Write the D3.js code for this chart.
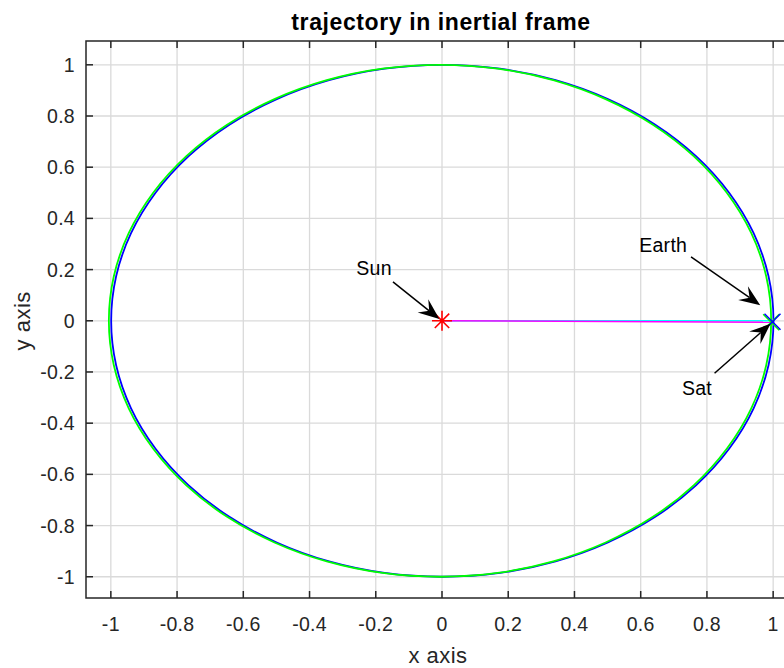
<!DOCTYPE html>
<html>
<head>
<meta charset="utf-8">
<script src="https://cdn.jsdelivr.net/npm/d3@7/dist/d3.min.js"></script>
<style>
  html, body { margin: 0; padding: 0; background: #fff; }
  svg { display: block; font-family: "Liberation Sans", Arial, sans-serif; }
</style>
</head>
<body>
<svg id="chart" width="784" height="668"></svg>
<script>
// Orbit samples every 10 degrees (x, y in AU)
const earthX = [0.994, 0.979, 0.934, 0.860, 0.760, 0.637, 0.494, 0.336, 0.168, -0.006, -0.180, -0.348, -0.506, -0.649, -0.772, -0.872, -0.946, -0.991, -1.006, -0.991, -0.946, -0.872, -0.772, -0.649, -0.506, -0.348, -0.180, -0.006, 0.168, 0.336, 0.494, 0.637, 0.760, 0.860, 0.934, 0.979];
const earthY = [0.000, 0.174, 0.342, 0.500, 0.643, 0.766, 0.866, 0.940, 0.985, 1.000, 0.985, 0.940, 0.866, 0.766, 0.643, 0.500, 0.342, 0.174, 0.000, -0.174, -0.342, -0.500, -0.643, -0.766, -0.866, -0.940, -0.985, -1.000, -0.985, -0.940, -0.866, -0.766, -0.643, -0.500, -0.342, -0.174];
const satX = [1.001, 0.986, 0.941, 0.867, 0.767, 0.644, 0.501, 0.343, 0.175, 0.001, -0.173, -0.341, -0.499, -0.642, -0.765, -0.865, -0.939, -0.984, -0.999, -0.984, -0.939, -0.865, -0.765, -0.642, -0.499, -0.341, -0.173, 0.001, 0.175, 0.343, 0.501, 0.644, 0.767, 0.867, 0.941, 0.986];
const satY = [0.000, 0.174, 0.342, 0.500, 0.643, 0.766, 0.866, 0.940, 0.985, 1.000, 0.985, 0.940, 0.866, 0.766, 0.643, 0.500, 0.342, 0.174, 0.000, -0.174, -0.342, -0.500, -0.643, -0.766, -0.866, -0.940, -0.985, -1.000, -0.985, -0.940, -0.866, -0.766, -0.643, -0.500, -0.342, -0.174];

// Body positions at the final time step
const sunPos = [0, 0];
const earthPos = [0.994, -0.006];
const satPos = [0.998, -0.004];

// Axis ticks
const xTicks = [-1, -0.8, -0.6, -0.4, -0.2, 0, 0.2, 0.4, 0.6, 0.8, 1];
const yTicks = [-1, -0.8, -0.6, -0.4, -0.2, 0, 0.2, 0.4, 0.6, 0.8, 1];
const xDomain = [-1.075, 1.075];
const yDomain = [-1.083, 1.093];

// Annotations: label, label position, arrow tail, arrow head
const annotations = [
  { label: "Sun",   text: [-0.205, 0.205], tail: [-0.148, 0.152], head: [-0.008, 0.007] },
  { label: "Earth", text: [0.668, 0.296],  tail: [0.752, 0.250],   head: [0.961, 0.061] },
  { label: "Sat",   text: [0.770, -0.263], tail: [0.823, -0.205],  head: [0.992, -0.012] }
];

const svg = d3.select("#chart");
const boxL = 86, boxT = 41, boxR = 798, boxB = 598;

const x = d3.scaleLinear().domain(xDomain).range([boxL, boxR]);
const y = d3.scaleLinear().domain(yDomain).range([boxB, boxT]);

const axisColor = "#262626";
const gridColor = "#dadada";

svg.append("defs").append("clipPath").attr("id", "plot")
  .append("rect").attr("x", boxL).attr("y", boxT)
  .attr("width", boxR - boxL).attr("height", boxB - boxT);

// Grid
const grid = svg.append("g");
grid.selectAll(".gx").data(xTicks).join("line")
  .attr("x1", d => x(d)).attr("x2", d => x(d))
  .attr("y1", boxT).attr("y2", boxB)
  .attr("stroke", gridColor).attr("stroke-width", 1.3);
grid.selectAll(".gy").data(yTicks).join("line")
  .attr("x1", boxL).attr("x2", boxR)
  .attr("y1", d => y(d)).attr("y2", d => y(d))
  .attr("stroke", gridColor).attr("stroke-width", 1.3);

const plot = svg.append("g").attr("clip-path", "url(#plot)");

const line = d3.line().curve(d3.curveCatmullRomClosed.alpha(0.5))
  .x(d => x(d[0])).y(d => y(d[1]));

// Satellite trajectory (blue) and Earth trajectory (green)
plot.append("path").datum(d3.zip(satX, satY))
  .attr("d", line).attr("fill", "none").attr("stroke", "#0000ff").attr("stroke-width", 1.8);
plot.append("path").datum(d3.zip(earthX, earthY))
  .attr("d", line).attr("fill", "none").attr("stroke", "#00ff00").attr("stroke-width", 1.8);

// Lines from Sun to satellite (cyan) and to Earth (magenta)
plot.append("line")
  .attr("x1", x(sunPos[0])).attr("y1", y(sunPos[1]))
  .attr("x2", x(satPos[0])).attr("y2", y(0))
  .attr("stroke", "#00ffff").attr("stroke-width", 1.5);
plot.append("line")
  .attr("x1", x(sunPos[0])).attr("y1", y(sunPos[1]))
  .attr("x2", x(earthPos[0])).attr("y2", y(earthPos[1]))
  .attr("stroke", "#ff00ff").attr("stroke-width", 1.5);

// Markers
function xMarker(g, p, r, color) {
  const cx = x(p[0]), cy = y(p[1]);
  g.append("path")
    .attr("d", `M${cx - r},${cy - r}L${cx + r},${cy + r}M${cx - r},${cy + r}L${cx + r},${cy - r}`)
    .attr("stroke", color).attr("stroke-width", 1.5).attr("fill", "none");
}
function starMarker(g, p, r, color) {
  const cx = x(p[0]), cy = y(p[1]);
  const d = r * 0.72;
  g.append("path")
    .attr("d", `M${cx - r},${cy}L${cx + r},${cy}M${cx},${cy - r}L${cx},${cy + r}` +
               `M${cx - d},${cy - d}L${cx + d},${cy + d}M${cx - d},${cy + d}L${cx + d},${cy - d}`)
    .attr("stroke", color).attr("stroke-width", 1.6).attr("fill", "none");
}
starMarker(plot, sunPos, 10, "#ff0000");
xMarker(plot, earthPos, 8, "#00ff00");
xMarker(plot, satPos, 8, "#0000ff");

// Annotations with filled, swept-back arrowheads
const ann = svg.append("g");
annotations.forEach(a => {
  const x0 = x(a.tail[0]), y0 = y(a.tail[1]);
  const x1 = x(a.head[0]), y1 = y(a.head[1]);
  const ang = Math.atan2(y1 - y0, x1 - x0);
  const L = 21, W = 8.5, notch = 13;
  const bx = x1 - L * Math.cos(ang), by = y1 - L * Math.sin(ang);
  const nx = x1 - notch * Math.cos(ang), ny = y1 - notch * Math.sin(ang);
  const px = -Math.sin(ang), py = Math.cos(ang);
  ann.append("line")
    .attr("x1", x0).attr("y1", y0).attr("x2", nx).attr("y2", ny)
    .attr("stroke", "#000").attr("stroke-width", 1.5);
  ann.append("path")
    .attr("d", `M${x1},${y1}L${bx + W * px},${by + W * py}L${nx},${ny}L${bx - W * px},${by - W * py}Z`)
    .attr("fill", "#000");
  ann.append("text")
    .attr("x", x(a.text[0])).attr("y", y(a.text[1]))
    .attr("text-anchor", "middle").attr("dominant-baseline", "central")
    .attr("font-size", 19.5).attr("letter-spacing", 0.3).attr("fill", "#000").text(a.label);
});

// Axes box and ticks
const axes = svg.append("g");
axes.append("rect").attr("x", boxL).attr("y", boxT)
  .attr("width", boxR - boxL).attr("height", boxB - boxT)
  .attr("fill", "none").attr("stroke", axisColor).attr("stroke-width", 1.5);

const tickLen = 7;
axes.selectAll(".tb").data(xTicks).join("line")
  .attr("x1", d => x(d)).attr("x2", d => x(d))
  .attr("y1", boxB).attr("y2", boxB - tickLen)
  .attr("stroke", axisColor).attr("stroke-width", 1.5);
axes.selectAll(".tt").data(xTicks).join("line")
  .attr("x1", d => x(d)).attr("x2", d => x(d))
  .attr("y1", boxT).attr("y2", boxT + tickLen)
  .attr("stroke", axisColor).attr("stroke-width", 1.5);
axes.selectAll(".tl").data(yTicks).join("line")
  .attr("x1", boxL).attr("x2", boxL + tickLen)
  .attr("y1", d => y(d)).attr("y2", d => y(d))
  .attr("stroke", axisColor).attr("stroke-width", 1.5);
axes.selectAll(".tr").data(yTicks).join("line")
  .attr("x1", boxR).attr("x2", boxR - tickLen)
  .attr("y1", d => y(d)).attr("y2", d => y(d))
  .attr("stroke", axisColor).attr("stroke-width", 1.5);

const fmt = d => String(+d.toFixed(1));
axes.selectAll(".xl").data(xTicks).join("text")
  .attr("x", d => x(d)).attr("y", 624)
  .attr("text-anchor", "middle").attr("dominant-baseline", "central")
  .attr("font-size", 19.5).attr("letter-spacing", 0.3).attr("fill", axisColor).text(fmt);
axes.selectAll(".yl").data(yTicks).join("text")
  .attr("x", 75).attr("y", d => y(d))
  .attr("text-anchor", "end").attr("dominant-baseline", "central")
  .attr("font-size", 19.5).attr("letter-spacing", 0.3).attr("fill", axisColor).text(fmt);

// Labels and title
svg.append("text").attr("x", 438).attr("y", 655)
  .attr("text-anchor", "middle").attr("dominant-baseline", "central")
  .attr("font-size", 22).attr("letter-spacing", 0.5).attr("fill", axisColor).text("x axis");
svg.append("text")
  .attr("transform", `translate(22,${y(0)}) rotate(-90)`)
  .attr("text-anchor", "middle").attr("dominant-baseline", "central")
  .attr("font-size", 22).attr("letter-spacing", 0.5).attr("fill", axisColor).text("y axis");
svg.append("text").attr("x", 441).attr("y", 22)
  .attr("text-anchor", "middle").attr("dominant-baseline", "central")
  .attr("font-size", 23).attr("letter-spacing", 0.6).attr("font-weight", "bold").attr("fill", "#000")
  .text("trajectory in inertial frame");
</script>
</body>
</html>
